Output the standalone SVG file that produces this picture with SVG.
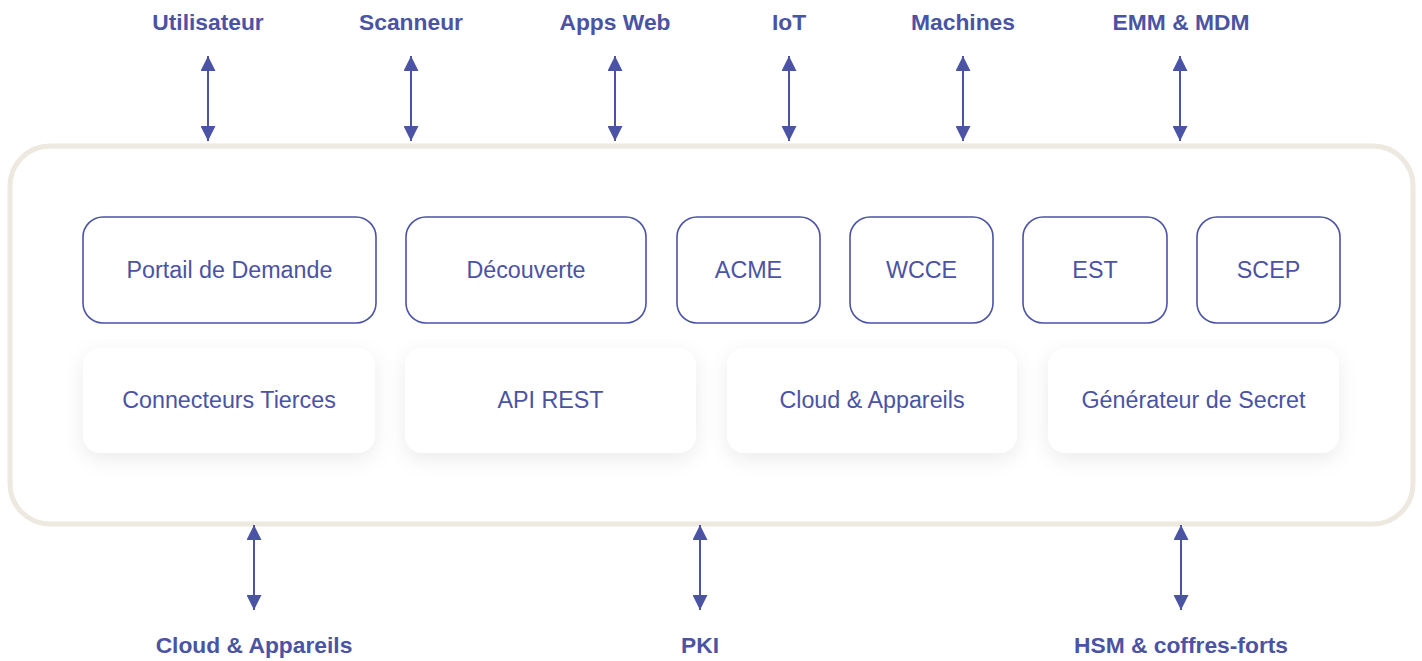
<svg xmlns="http://www.w3.org/2000/svg" width="1422" height="661" viewBox="0 0 1422 661">
<style>
.lbl{font-family:"Liberation Sans",Arial,sans-serif;font-weight:bold;font-size:22.8px;fill:#4B53A4;text-anchor:middle}
.txt{font-family:"Liberation Sans",Arial,sans-serif;font-size:23.3px;fill:#4B53A4;text-anchor:middle}
.proto{fill:#fff;stroke:#4B53A4;stroke-width:1.6}
.svc{fill:#fff;filter:url(#sh)}
.arr{stroke:#4B53A4;stroke-width:2;marker-start:url(#ah);marker-end:url(#ah)}
</style>
<defs>
<marker id="ah" viewBox="0 0 15 15" refX="15" refY="7.5" markerWidth="15" markerHeight="15" markerUnits="userSpaceOnUse" orient="auto-start-reverse">
<path d="M0,0 L15,7.5 L0,15 Z" fill="#4B53A4"/>
</marker>
<filter id="sh" x="-20%" y="-30%" width="140%" height="170%">
<feDropShadow dx="0" dy="6" stdDeviation="10" flood-color="#000" flood-opacity="0.08"/>
</filter>
</defs>
<rect width="1422" height="661" fill="#fff"/>
<g id="container">
<rect x="10" y="146" width="1403" height="378" rx="40" fill="#fff" stroke="#EDE8E0" stroke-width="5"/>
</g>
<g id="connectors">
<line class="arr" x1="208" y1="56" x2="208" y2="141"/>
<line class="arr" x1="411" y1="56" x2="411" y2="141"/>
<line class="arr" x1="615" y1="56" x2="615" y2="141"/>
<line class="arr" x1="789" y1="56" x2="789" y2="141"/>
<line class="arr" x1="963" y1="56" x2="963" y2="141"/>
<line class="arr" x1="1180" y1="56" x2="1180" y2="141"/>
<line class="arr" x1="254" y1="525" x2="254" y2="610"/>
<line class="arr" x1="700" y1="525" x2="700" y2="610"/>
<line class="arr" x1="1181" y1="525" x2="1181" y2="610"/>
</g>
<g id="ext-utilisateur"><text class="lbl" x="208" y="30">Utilisateur</text></g>
<g id="ext-scanneur"><text class="lbl" x="411" y="30">Scanneur</text></g>
<g id="ext-appsweb"><text class="lbl" x="615" y="30">Apps Web</text></g>
<g id="ext-iot"><text class="lbl" x="789" y="30">IoT</text></g>
<g id="ext-machines"><text class="lbl" x="963" y="30">Machines</text></g>
<g id="ext-emm"><text class="lbl" x="1181" y="30">EMM &amp; MDM</text></g>
<g id="ext-cloud"><text class="lbl" x="254" y="653">Cloud &amp; Appareils</text></g>
<g id="ext-pki"><text class="lbl" x="700" y="653">PKI</text></g>
<g id="ext-hsm"><text class="lbl" x="1181" y="653">HSM &amp; coffres-forts</text></g>
<g id="portail"><rect class="proto" x="83" y="217" width="293" height="106" rx="20"/><text class="txt" x="229.5" y="278">Portail de Demande</text></g>
<g id="decouverte"><rect class="proto" x="406" y="217" width="240" height="106" rx="20"/><text class="txt" x="526" y="278">Découverte</text></g>
<g id="acme"><rect class="proto" x="677" y="217" width="143" height="106" rx="20"/><text class="txt" x="748.5" y="278">ACME</text></g>
<g id="wcce"><rect class="proto" x="850" y="217" width="143" height="106" rx="20"/><text class="txt" x="921.5" y="278">WCCE</text></g>
<g id="est"><rect class="proto" x="1023" y="217" width="144" height="106" rx="20"/><text class="txt" x="1095" y="278">EST</text></g>
<g id="scep"><rect class="proto" x="1197" y="217" width="143" height="106" rx="20"/><text class="txt" x="1268.5" y="278">SCEP</text></g>
<g id="connecteurs"><rect class="svc" x="83" y="348" width="292" height="105" rx="18"/><text class="txt" x="229" y="408">Connecteurs Tierces</text></g>
<g id="api"><rect class="svc" x="405" y="348" width="291" height="105" rx="18"/><text class="txt" x="550.5" y="408">API REST</text></g>
<g id="cloud"><rect class="svc" x="727" y="348" width="290" height="105" rx="18"/><text class="txt" x="872" y="408">Cloud &amp; Appareils</text></g>
<g id="generateur"><rect class="svc" x="1048" y="348" width="291" height="105" rx="18"/><text class="txt" x="1193.5" y="408">Générateur de Secret</text></g>
</svg>
